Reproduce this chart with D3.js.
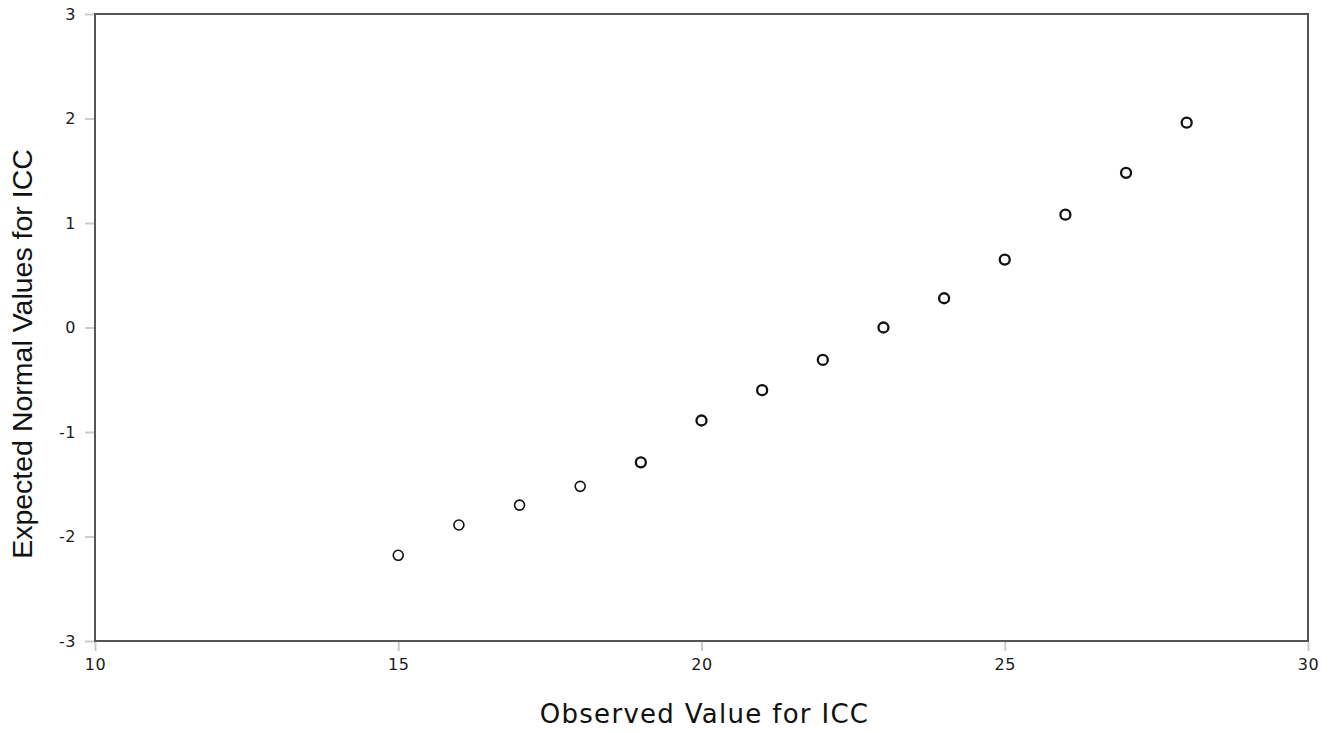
<!DOCTYPE html>
<html><head><meta charset="utf-8">
<script src="https://cdn.jsdelivr.net/npm/d3@7"></script>
<style>body{margin:0;background:#fff}svg{display:block}</style>
</head><body>
<svg id="c" width="1336" height="733"></svg>
<script>
const observed = [15,16,17,18,19,20,21,22,23,24,25,26,27,28];
const expected = [-2.18,-1.89,-1.70,-1.52,-1.29,-0.89,-0.60,-0.31,0.00,0.28,0.65,1.08,1.48,1.96];
const xTicks = [10,15,20,25,30];
const yTicks = [-3,-2,-1,0,1,2,3];

const svg = d3.select("#c");
const L=95, R=1308, T=14, B=641;
const x = d3.scaleLinear().domain([10,30]).range([L,R]);
const y = d3.scaleLinear().domain([-3,3]).range([B,T]);
const font = "'DejaVu Sans', Verdana, sans-serif";

const xa = svg.append("g").attr("transform",`translate(0,${B})`)
  .call(d3.axisBottom(x).tickValues(xTicks).tickSize(10).tickPadding(8).tickFormat(d=>String(d)));
const ya = svg.append("g").attr("transform",`translate(${L},0)`)
  .call(d3.axisLeft(y).tickValues(yTicks).tickSize(10).tickPadding(9).tickFormat(d=>String(d)));
[xa,ya].forEach(a=>{
  a.attr("font-size",null).attr("font-family",null);
  a.select(".domain").remove();
  a.selectAll(".tick line").attr("stroke","#cccccc").attr("stroke-width",2);
  a.selectAll(".tick text").attr("fill","#1a1a1a").attr("font-family",font).attr("font-size",16).attr("letter-spacing","0.5px");
});

svg.append("rect").attr("x",L).attr("y",T).attr("width",R-L).attr("height",B-T)
  .attr("fill","none").attr("stroke","#555").attr("stroke-width",2);

svg.append("g").selectAll("circle").data(observed).join("circle")
  .attr("cx",d=>x(d)).attr("cy",(d,i)=>y(expected[i])).attr("r",5)
  .attr("fill","none").attr("stroke","#111").attr("stroke-width",(d,i)=>i<4?1.6:2.3);

svg.append("text").attr("x",(L+R)/2+3).attr("y",723).attr("text-anchor","middle")
  .style("font-family",font).style("font-size","26px").style("letter-spacing","1.3px").attr("fill","#111").text("Observed Value for ICC");
svg.append("text").attr("transform",`translate(32,${354}) rotate(-90)`).attr("text-anchor","middle")
  .style("font-family","'Liberation Sans', Arial, sans-serif").style("font-size","28.5px").attr("fill","#111").text("Expected Normal Values for ICC");
</script>
</body></html>
